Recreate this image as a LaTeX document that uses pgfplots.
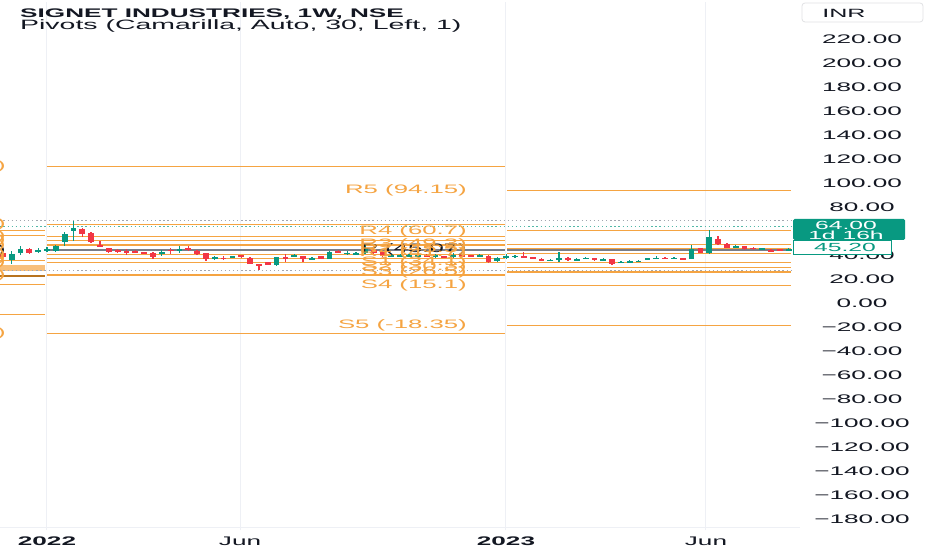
\documentclass[border=0pt]{standalone}
\usepackage{fontspec}
\setmainfont{Liberation Sans}[FakeStretch=2.1]
\usepackage{pgfplots}
\pgfplotsset{compat=1.18}
\usepackage{pgfplotstable}
\definecolor{tvgreen}{HTML}{089981}
\definecolor{tvred}{HTML}{F23645}
\definecolor{piv}{HTML}{F5A442}
\definecolor{pivdark}{HTML}{B8731E}
\definecolor{gridc}{HTML}{EEF0F5}
\definecolor{txt}{HTML}{131722}
\definecolor{pcol}{HTML}{7A7D86}
\definecolor{dotc}{HTML}{A3A6AF}

\pgfplotstableread{
k o h l c
-4 36.0 43.8 32.9 41.5
-3 42.33 47.92 40.67 45.67
-1 43.5 46.25 42.08 44.58
0 44.58 47.08 42.92 45.42
1 44.0 49.17 43.33 47.92
2 51.25 59.58 47.67 58.17
3 60.17 68.75 51.83 62.92
13 42.08 44.33 39.83 42.67
15 44.58 47.67 41.83 45.42
19 38.08 39.33 36.0 38.75
21 38.75 39.83 38.33 39.33
26 31.83 38.75 31.67 38.5
28 39.58 41.5 38.5 40.17
30 37.25 38.75 36.67 37.92
32 37.33 43.75 37.08 42.92
34 41.67 43.75 40.42 42.33
35 41.25 42.92 40.17 41.83
36 42.33 48.75 41.25 46.25
39 39.75 41.25 38.75 40.42
40 39.75 41.0 39.17 40.42
41 39.75 41.67 38.75 40.42
42 39.58 40.83 39.17 40.17
44 39.58 41.25 38.33 40.17
46 39.58 42.08 37.92 40.17
49 39.75 41.67 39.58 40.42
51 35.42 38.75 34.58 37.92
52 38.75 41.5 37.33 39.58
53 39.33 40.42 38.33 40.0
57 35.83 37.5 35.58 36.42
58 36.42 42.92 34.58 38.33
60 36.0 37.92 35.42 37.33
61 37.67 38.75 37.08 38.17
63 36.5 37.92 35.83 37.08
65 34.17 35.83 33.75 34.83
66 34.83 36.25 34.17 35.42
67 35.17 36.25 34.58 35.67
68 37.08 38.33 36.25 37.67
69 37.67 39.58 37.08 38.17
71 37.67 38.75 37.08 38.17
73 37.33 48.5 36.83 45.67
75 42.33 61.0 41.5 55.42
78 47.25 48.75 46.25 47.92
81 45.42 46.67 45.0 46.0
84 44.58 46.5 44.5 45.2
}\greentab

\pgfplotstableread{
k o h l c
-5 42.1 43.8 37.1 38.8
-2 45.67 46.67 41.25 42.33
4 62.33 62.92 55.42 58.17
5 58.75 59.58 50.42 51.25
6 48.5 52.08 47.08 47.33
7 46.25 46.67 42.33 42.92
8 44.33 45.17 42.08 43.5
9 43.75 45.17 40.67 42.92
10 43.75 44.58 42.08 42.92
11 42.67 42.92 41.67 42.08
12 42.33 42.92 37.08 38.75
14 44.75 46.25 41.5 44.08
16 46.5 48.0 44.0 44.83
17 44.0 44.83 40.17 41.5
18 42.08 42.5 35.17 36.83
20 38.17 39.58 36.0 37.5
22 40.42 40.83 37.92 39.75
23 37.92 38.75 32.67 33.17
24 32.67 33.17 28.17 31.83
25 34.33 34.58 32.08 32.33
27 38.75 41.5 34.58 37.5
29 39.33 39.58 34.58 36.83
31 39.33 39.58 37.08 37.33
33 44.0 44.33 42.08 42.33
37 44.58 46.25 41.25 42.08
38 42.92 43.75 38.75 39.33
43 40.17 41.25 38.75 39.58
45 39.58 40.0 38.5 38.92
47 40.17 40.83 38.75 39.17
48 40.17 40.83 38.75 39.17
50 39.33 40.42 33.75 34.58
54 39.58 42.92 38.33 38.75
55 38.75 39.17 36.83 37.33
56 37.33 37.92 35.42 36.0
59 38.17 38.75 35.42 36.0
62 37.92 38.33 35.42 36.0
64 36.83 37.08 32.08 32.67
70 38.17 38.75 37.08 37.5
72 37.92 38.33 36.25 36.83
74 46.25 46.67 42.08 42.33
76 53.5 56.0 48.5 49.83
77 49.83 50.42 46.25 46.5
79 47.67 47.92 44.83 45.17
80 46.67 47.5 45.0 46.0
82 44.83 45.17 42.92 43.5
83 45.17 45.83 43.75 44.58
}\redtab

\newcommand{\hl}[4]{\addplot[#1, forget plot] coordinates {(#2,#4) (#3,#4)};}
\newcommand{\plab}[4]{\node[anchor=east, text=#1, inner sep=0pt, font=\fontsize{12.3}{13}\selectfont] at (axis cs:#2,#3) {#4};}

\begin{document}
\begin{tikzpicture}[x=1bp,y=1bp]
\path[use as bounding box, fill=white] (0,0) rectangle (932,550);
\begin{axis}[
  at={(0,16.5)}, anchor=south west,
  scale only axis, width=800bp, height=528bp,
  xmin=-5.323, xmax=85.28, ymin=-188.75, ymax=251.25,
  clip mode=individual,
  axis line style={draw=none},
  tick style={draw=none},
  xtick={0,21.86,51.98,74.63},
  xticklabels={\textbf{2022},Jun,\textbf{2023},Jun},
  xticklabel style={font=\fontsize{12.5}{14}\selectfont, text=txt, anchor=center, yshift=-11bp},
  xmajorgrids, grid style={gridc, line width=1bp},
  ytick={-180,-160,...,220},
  yticklabels={−180.00,−160.00,−140.00,−120.00,−100.00,−80.00,−60.00,−40.00,−20.00,0.00,20.00,40.00,60.00,80.00,100.00,120.00,140.00,160.00,180.00,200.00,220.00},
  yticklabel pos=right,
  yticklabel style={font=\fontsize{12.5}{14}\selectfont, text=txt, anchor=center, xshift=62bp},
  pivline/.style={piv, line width=1.3bp},
  pl/.style={pcol, line width=2.2bp},
  dotl/.style={dotc, line width=1bp, dash pattern=on 1.3bp off 2.8bp},
  candle/.style={draw=none, mark=none, forget plot,
    error bars/.cd, y dir=both, y explicit, error mark=none},
]
% segment A (2021)
\hl{pivline}{-5.4}{-0.2}{61.0}
\hl{pivline}{-5.4}{-0.2}{57.1}
\hl{pivline}{-5.4}{-0.2}{35.7}
\hl{piv!70, line width=2.2bp}{-5.4}{-0.2}{31.25}
\hl{piv!70, line width=2.2bp}{-5.4}{-0.2}{29.6}
\hl{piv!70, line width=2.2bp}{-5.4}{-0.2}{27.9}
\hl{pivdark, line width=2.2bp}{-5.4}{-0.2}{22.9}
\hl{pivline}{-5.4}{-0.2}{16.0}
\hl{pivline}{-5.4}{-0.2}{-9.3}
% segment B (2022)
\hl{pivline}{0}{51.9}{114.6}
\hl{pivline}{0}{51.9}{66.25}
\hl{pivline}{0}{51.9}{55.8}
\hl{pivline}{0}{51.9}{52.4}
\hl{pivline}{0}{51.9}{49.0}
\hl{pivline}{0}{51.9}{41.2}
\hl{pivline}{0}{51.9}{37.8}
\hl{pivline}{0}{51.9}{34.4}
\hl{pivline}{0}{51.9}{24.0}
\hl{pivline}{0}{51.9}{-24.6}
\hl{pl}{0}{51.9}{44.8}
% segment C (2023)
\hl{pivline}{52.1}{84.3}{94.15}
\hl{pivline}{52.1}{84.3}{60.7}
\hl{pivline}{52.1}{84.3}{49.3}
\hl{pivline}{52.1}{84.3}{45.5}
\hl{pivline}{52.1}{84.3}{41.7}
\hl{pivline}{52.1}{84.3}{34.1}
\hl{pivline}{52.1}{84.3}{30.3}
\hl{pivline}{52.1}{84.3}{26.5}
\hl{pivline}{52.1}{84.3}{15.1}
\hl{pivline}{52.1}{84.3}{-18.35}
\hl{pl}{52.1}{84.3}{45.07}
% dotted price lines
\hl{dotl}{-5.4}{84.4}{69.6}
\hl{dotl}{-5.4}{84.4}{27.7}
\hl{tvgreen!70, line width=1bp, dash pattern=on 1.3bp off 2.8bp}{-5.4}{84.4}{64}

% wicks
\addplot[candle, error bar style={draw=tvgreen, line width=1.3bp}]
  table[x=k, y expr={(\thisrow{h}+\thisrow{l})/2}, y error expr={(\thisrow{h}-\thisrow{l})/2}] {\greentab};
\addplot[candle, error bar style={draw=tvred, line width=1.3bp}]
  table[x=k, y expr={(\thisrow{h}+\thisrow{l})/2}, y error expr={(\thisrow{h}-\thisrow{l})/2}] {\redtab};
% bodies
\addplot[candle, error bar style={draw=tvgreen, line width=5.8bp}]
  table[x=k, y expr={(\thisrow{o}+\thisrow{c})/2}, y error expr={max(abs(\thisrow{c}-\thisrow{o})/2,0.45)}] {\greentab};
\addplot[candle, error bar style={draw=tvred, line width=5.8bp}]
  table[x=k, y expr={(\thisrow{o}+\thisrow{c})/2}, y error expr={max(abs(\thisrow{c}-\thisrow{o})/2,0.45)}] {\redtab};

% labels segment C (P first, so that the orange labels lie over it)
\plab{txt}{47.56}{45.07}{P (45.07)}
\plab{piv}{47.56}{94.15}{R5 (94.15)}
\plab{piv}{47.56}{60.7}{R4 (60.7)}
\plab{piv}{47.56}{49.3}{R3 (49.3)}
\plab{piv}{47.56}{45.5}{R2 (45.5)}
\plab{piv}{47.56}{41.7}{R1 (41.7)}
\plab{piv}{47.56}{34.1}{S1 (34.1)}
\plab{piv}{47.56}{30.3}{S2 (30.3)}
\plab{piv}{47.56}{26.5}{S3 (26.5)}
\plab{piv}{47.56}{15.1}{S4 (15.1)}
\plab{piv}{47.56}{-18.35}{S5 (-18.35)}
% labels segment B (mostly off the picture)
\plab{txt}{-4.64}{44.8}{P (44.8)}
\plab{piv}{-4.64}{114.6}{R5 (114.6)}
\plab{piv}{-4.64}{66.25}{R4 (66.25)}
\plab{piv}{-4.64}{55.8}{R3 (55.8)}
\plab{piv}{-4.64}{52.4}{R2 (52.4)}
\plab{piv}{-4.64}{49.0}{R1 (49)}
\plab{piv}{-4.64}{41.2}{S1 (41.2)}
\plab{piv}{-4.64}{37.8}{S2 (37.8)}
\plab{piv}{-4.64}{34.4}{S3 (34.4)}
\plab{piv}{-4.64}{24.0}{S4 (24)}
\plab{piv}{-4.64}{-24.6}{S5 (-24.6)}
\end{axis}
% time-axis separator
\draw[gridc, line width=1bp] (0,22) -- (800,22);
% title
\node[anchor=west, inner sep=0pt, text=txt, font=\fontsize{12.5}{14}\selectfont\bfseries] at (20,535.5) {SIGNET INDUSTRIES, 1W, NSE};
\node[anchor=west, inner sep=0pt, text=txt, font=\fontsize{13.6}{14}\selectfont] at (20,523.5) {Pivots (Camarilla, Auto, 30, Left, 1)};
% currency box
\draw[gridc!70!gray!60, line width=0.8bp, rounded corners=3bp] (802,547) rectangle (923,528);
\node[text=txt, inner sep=0pt, font=\fontsize{12}{13}\selectfont] at (844,536.5) {INR};
% price labels
\fill[tvgreen, rounded corners=1.5bp] (793,331) rectangle (905,310);
\node[text=white, inner sep=0pt, font=\fontsize{11.8}{12}\selectfont] at (846,324.5) {64.00};
\node[text=white, inner sep=0pt, font=\fontsize{11.8}{12}\selectfont] at (846,314.8) {1d 16h};
\filldraw[fill=white, draw=tvgreen, line width=1bp] (793,309.5) rectangle (891,295);
\node[text=tvgreen, inner sep=0pt, font=\fontsize{11.8}{12}\selectfont] at (845,302.3) {45.20};
\end{tikzpicture}
\end{document}
